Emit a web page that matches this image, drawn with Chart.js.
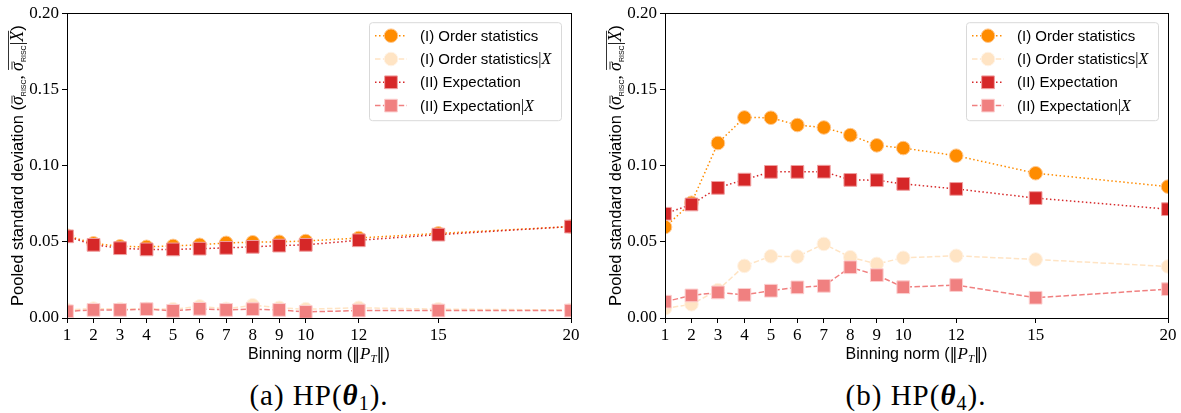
<!DOCTYPE html>
<html>
<head>
<meta charset="utf-8">
<title>Pooled standard deviation vs binning norm</title>
<script src="https://cdn.jsdelivr.net/npm/chart.js"></script>
<style>
  body { margin: 0; background: #fff; width: 1181px; height: 413px; position: relative; overflow: hidden; }
  canvas { position: absolute; top: 0; }
  .cap { position: absolute; top: 381px; width: 300px; text-align: center; font-family: 'Liberation Serif', serif; font-size: 29px; line-height: 29px; letter-spacing: 1px; white-space: nowrap; }
  .cap sub { font-size: 20px; vertical-align: -5px; line-height: 0; }
</style>
</head>
<body>
<canvas id="c1" width="590" height="370" style="left:0"></canvas>
<canvas id="c2" width="583" height="370" style="left:598px"></canvas>
<div class="cap" style="left:169px">(a) HP(<b><i>θ</i></b><sub>1</sub>).</div>
<div class="cap" style="left:766px">(b) HP(<b><i>θ</i></b><sub>4</sub>).</div>

<script>
// --- data ---
const binNorms = [1, 2, 3, 4, 5, 6, 7, 8, 9, 10, 12, 15, 20];
const yTicks = [0, 0.05, 0.10, 0.15, 0.20];
const seriesNames = ['(I) Order statistics', '(I) Order statistics', '(II) Expectation', '(II) Expectation'];
const seriesGivenX = [false, true, false, true];

// HP(theta_1)
const theta1Order   = [0.054, 0.049, 0.047, 0.0467, 0.0473, 0.048, 0.0493, 0.0497, 0.050, 0.0505, 0.0525, 0.0555, 0.060];
const theta1OrderX  = [0.0053, 0.0062, 0.0058, 0.006, 0.0058, 0.0076, 0.006, 0.0084, 0.0067, 0.0058, 0.0067, 0.0058, 0.0053];
const theta1Expect  = [0.0536, 0.048, 0.0458, 0.045, 0.045, 0.0455, 0.046, 0.0467, 0.0475, 0.048, 0.051, 0.0547, 0.060];
const theta1ExpectX = [0.0044, 0.0053, 0.0053, 0.0058, 0.0047, 0.006, 0.0053, 0.0058, 0.0053, 0.004, 0.0049, 0.0049, 0.0049];

// HP(theta_4)
const theta4Order   = [0.0597, 0.0756, 0.1148, 0.1316, 0.1314, 0.1266, 0.125, 0.120, 0.1133, 0.1115, 0.1065, 0.095, 0.0862];
const theta4OrderX  = [0.0063, 0.009, 0.0183, 0.0342, 0.0405, 0.0403, 0.0486, 0.0399, 0.0355, 0.0395, 0.0408, 0.0384, 0.0338];
const theta4Expect  = [0.0684, 0.0745, 0.0854, 0.0908, 0.0959, 0.0959, 0.096, 0.0906, 0.0904, 0.088, 0.0847, 0.0787, 0.0714];
const theta4ExpectX = [0.0107, 0.0148, 0.0168, 0.0152, 0.0179, 0.0201, 0.0211, 0.0333, 0.0281, 0.0202, 0.0216, 0.0133, 0.0189];

// styles per series: orange dotted, bisque dashed, red dotted, lightcoral dashed
const styles = [
  { color: '#ff8c00', edge: '#ffc890', dash: [1.5, 2.5], point: 'circle', r: 6.8 },
  { color: '#ffe4c4', edge: '#fff2e4', dash: [5.5, 2.4], point: 'circle', r: 6.8 },
  { color: '#d62728', edge: '#f0a0a0', dash: [1.5, 2.5], point: 'rect',   r: 9 },
  { color: '#f08080', edge: '#fcd0d0', dash: [5.5, 2.4], point: 'rect',   r: 9 }
];

const SANS = "'Liberation Sans', sans-serif";
const SERIF = "'Liberation Serif', serif";

function drawRich(ctx, parts, x, y) {
  let w = 0;
  for (const p of parts) { ctx.font = p.f; p.w = ctx.measureText(p.t).width; w += p.w; }
  let cx = x - w / 2;
  ctx.textAlign = 'left';
  ctx.textBaseline = 'alphabetic';
  for (const p of parts) {
    ctx.font = p.f;
    ctx.fillText(p.t, cx, y + (p.dy || 0));
    p.x0 = cx;
    cx += p.w;
  }
  ctx.lineWidth = 0.8;
  for (const p of parts) {
    if (p.bar) {
      ctx.beginPath(); ctx.moveTo(p.x0 + 1.5, y - 11); ctx.lineTo(p.x0 + p.w + 0.5, y - 11); ctx.stroke();
    }
  }
  const ol = parts.filter(p => p.ol);
  if (ol.length) {
    ctx.beginPath();
    ctx.moveTo(ol[0].x0 + 1, y - 14.5);
    ctx.lineTo(ol[ol.length - 1].x0 + ol[ol.length - 1].w, y - 14.5);
    ctx.stroke();
  }
  return w;
}

function leftRich(ctx, parts, x, y) {
  let cx = x;
  ctx.textAlign = 'left';
  ctx.textBaseline = 'alphabetic';
  for (const p of parts) {
    ctx.font = p.f;
    ctx.fillText(p.t, cx, y + (p.dy || 0));
    cx += ctx.measureText(p.t).width;
  }
}

const figurePlugin = {
  id: 'figure',
  afterDraw(chart) {
    const ctx = chart.ctx;
    const a = chart.chartArea;
    ctx.save();
    // axes box
    ctx.strokeStyle = '#000';
    ctx.lineWidth = 1;
    ctx.strokeRect(Math.round(a.left) + 0.5, Math.round(a.top) + 0.5, Math.round(a.right - a.left), Math.round(a.bottom - a.top));

    // legend
    const bw = 192, bh = 98;
    const bx = a.right - 10 - bw, by = a.top + 9;
    ctx.beginPath();
    ctx.roundRect(bx + 0.5, by + 0.5, bw, bh, 3);
    ctx.fillStyle = 'rgba(255,255,255,0.8)';
    ctx.fill();
    ctx.strokeStyle = '#d9d9d9';
    ctx.stroke();
    styles.forEach((s, i) => {
      const y = by + 13.5 + i * 23.3;
      ctx.save();
      ctx.strokeStyle = s.color;
      ctx.lineWidth = 1.5;
      ctx.setLineDash(s.dash);
      ctx.beginPath(); ctx.moveTo(bx + 6, y); ctx.lineTo(bx + 38, y); ctx.stroke();
      ctx.restore();
      ctx.fillStyle = s.color;
      ctx.strokeStyle = s.edge;
      ctx.lineWidth = 1;
      Chart.helpers.drawPoint(ctx, { pointStyle: s.point, radius: s.r, borderWidth: 1, rotation: 0 }, bx + 22, y);
      ctx.fillStyle = '#000';
      const parts = [{ t: seriesNames[i], f: '15px ' + SANS }];
      if (seriesGivenX[i]) {
        parts.push({ t: '|', f: '16px ' + SERIF });
        parts.push({ t: 'X', f: 'italic 16px ' + SERIF });
      }
      leftRich(ctx, parts, bx + 51, y + 5);
    });

    // x title
    ctx.fillStyle = '#000';
    ctx.strokeStyle = '#000';
    const xc = (a.left + a.right) / 2;
    drawRich(ctx, [
      { t: 'Binning norm (', f: '16px ' + SANS },
      { t: '\u2016', f: '16px DejaVu Sans' },
      { t: 'P', f: 'italic 17px ' + SERIF },
      { t: 'T', f: 'italic 11px ' + SERIF, dy: 3 },
      { t: '\u2016', f: '16px DejaVu Sans' },
      { t: ')', f: '16px ' + SANS }
    ], xc, a.bottom + 41);

    // y title, rotated
    ctx.save();
    ctx.translate(a.left - 44, (a.top + a.bottom) / 2);
    ctx.rotate(-Math.PI / 2);
    drawRich(ctx, [
      { t: 'Pooled standard deviation (', f: '16.5px ' + SANS },
      { t: '\u03c3', f: 'italic 18px ' + SERIF, bar: true },
      { t: 'RISC', f: '7px ' + SANS, dy: 3 },
      { t: ', ', f: '17px ' + SERIF },
      { t: '\u03c3', f: 'italic 18px ' + SERIF, bar: true, ol: true },
      { t: 'RISC', f: '7px ' + SANS, dy: 3, ol: true },
      { t: '|', f: '18px ' + SERIF, ol: true },
      { t: 'X', f: 'italic 18px ' + SERIF, ol: true },
      { t: ')', f: '16.5px ' + SANS }
    ], 0, 0);
    ctx.restore();
    ctx.restore();
  }
};

function makeChart(id, series, padRight) {
  const datasets = series.map((vals, i) => {
    const s = styles[i];
    return {
      label: seriesNames[i] + (seriesGivenX[i] ? '|X' : ''),
      data: binNorms.map((x, j) => ({ x: x, y: vals[j] })),
      borderColor: s.color,
      backgroundColor: s.color,
      borderWidth: 1.5,
      borderDash: s.dash,
      pointStyle: s.point,
      pointRadius: s.r,
      pointBorderColor: s.edge,
      pointBorderWidth: 1,
      pointBackgroundColor: s.color,
      tension: 0,
      clip: 0,
      order: 4 - i
    };
  });
  return new Chart(document.getElementById(id), {
    type: 'line',
    data: { datasets: datasets },
    options: {
      responsive: false,
      animation: false,
      events: [],
      layout: { padding: { left: 0, right: padRight, top: 12, bottom: 0 } },
      plugins: { legend: { display: false }, tooltip: { enabled: false } },
      scales: {
        x: {
          type: 'linear', min: 1, max: 20,
          afterBuildTicks: ax => { ax.ticks = binNorms.map(v => ({ value: v })); },
          afterFit: ax => { ax.height = 52; },
          border: { display: false },
          grid: { drawOnChartArea: false, drawTicks: true, tickLength: 5, color: '#000' },
          ticks: { autoSkip: false, maxRotation: 0, padding: 2, color: '#000', font: { family: SERIF, size: 17 } }
        },
        y: {
          min: 0, max: 0.2,
          afterBuildTicks: ax => { ax.ticks = yTicks.map(v => ({ value: v })); },
          afterFit: ax => { ax.width = 67; },
          border: { display: false },
          grid: { drawOnChartArea: false, drawTicks: true, tickLength: 5, color: '#000' },
          ticks: { padding: 3, color: '#000', font: { family: SERIF, size: 17 }, callback: v => v.toFixed(2) }
        }
      }
    },
    plugins: [figurePlugin]
  });
}

makeChart('c1', [theta1Order, theta1OrderX, theta1Expect, theta1ExpectX], 19);
makeChart('c2', [theta4Order, theta4OrderX, theta4Expect, theta4ExpectX], 13);
</script>
</body>
</html>
